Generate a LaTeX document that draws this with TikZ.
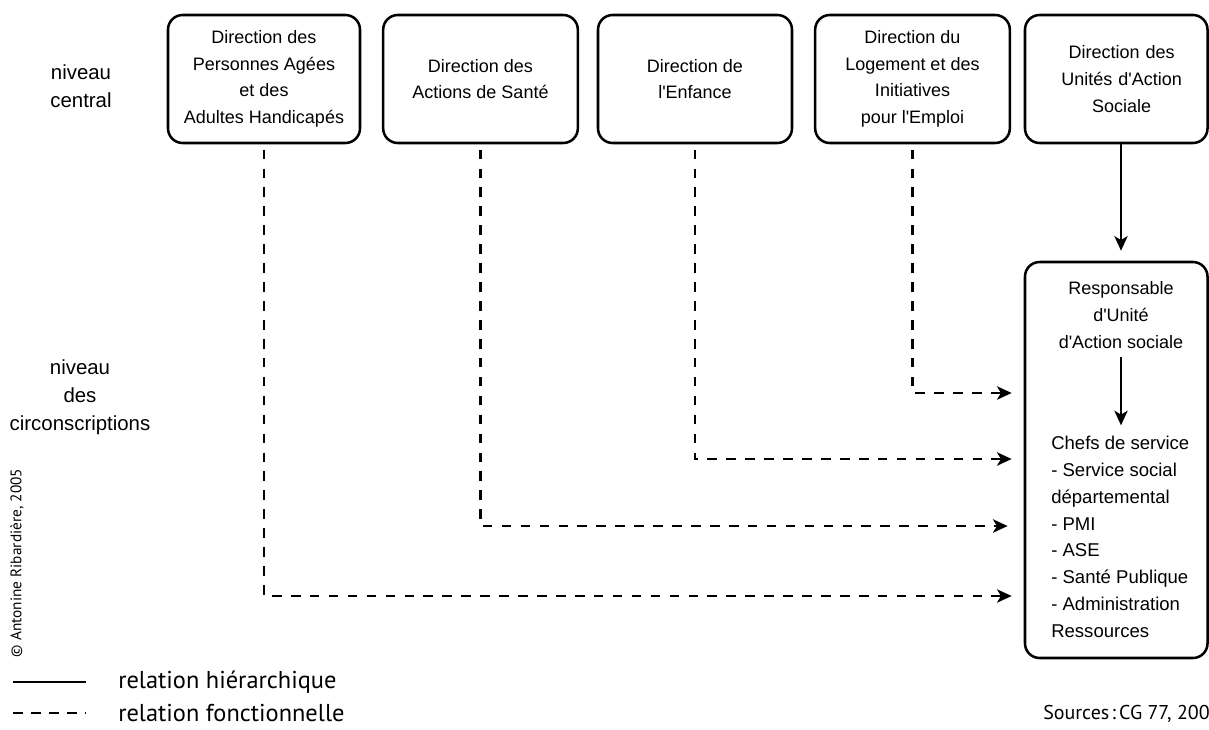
\documentclass[tikz,border=0pt]{standalone}
\usepackage{fontspec}
\setmainfont{Liberation Sans}[Ligatures=TeXOff]
\newfontfamily\myriad{PT Sans}
\usetikzlibrary{arrows.meta}
\begin{document}
\begin{tikzpicture}[x=0.75pt,y=-0.75pt,
  dirbox/.style={draw, line width=1.9pt, rounded corners=11pt, align=center,
    minimum height=96pt, inner sep=0pt,
    font=\fontsize{13.5pt}{20pt}\selectfont},
  lvl/.style={align=center, inner sep=0pt, font=\fontsize{15.3pt}{21pt}\selectfont},
  hier/.style={line width=1.5pt, -{Stealth[length=11pt,width=10pt,inset=3pt]}},
  fonc/.style={line width=1.9pt, dash pattern=on 7.2pt off 7pt,
    -{Stealth[length=11pt,width=10pt,inset=3pt]}, shorten >=10pt},
  legtxt/.style={anchor=west, inner sep=0pt, font=\myriad\fontsize{18.3pt}{20pt}\selectfont}
]
\useasboundingbox (0,0) rectangle (1209,729);
\fill[white] (0,0) rectangle (1209,729);

% left level labels
\node[lvl] (lc) at (81,86) {niveau\\central};
\node[lvl] (lcirc) at (80,397) {niveau\\des\\circonscriptions};

% top boxes
\node[dirbox, minimum width=144pt] (b1) at (264,79)
  {Direction des\\Personnes Agées\\et des\\Adultes Handicapés};
\node[dirbox, minimum width=146pt] (b2) at (480.5,79)
  {Direction des\\Actions de Santé};
\node[dirbox, minimum width=145.5pt] (b3) at (695,79)
  {Direction de\\l'Enfance};
\node[dirbox, minimum width=146pt] (b4) at (912.5,79)
  {Direction du\\Logement et des\\Initiatives\\pour l'Emploi};
\node[dirbox, minimum width=136.9pt, text width=136.9pt] (b5) at (1116.25,79)
  {\hspace*{8pt}Direction des\\\hspace*{8pt}Unités d'Action\\\hspace*{8pt}Sociale};

% tall box
\node[draw, line width=1.9pt, rounded corners=11pt, minimum width=136.9pt,
  minimum height=297pt, inner sep=0pt] (tall) at (1116.25,460) {};
\node[align=center, inner sep=0pt, font=\fontsize{13.5pt}{20pt}\selectfont]
  (resp) at (1121,315) {Responsable\\d'Unité\\d'Action sociale};
\node[align=left, anchor=north west, inner sep=0pt,
  font=\fontsize{13.9pt}{20.1pt}\selectfont] (chefs) at (1051,436)
  {Chefs de service\\- Service social\\départemental\\- PMI\\- ASE\\- Santé Publique\\- Administration\\Ressources};

% hierarchical arrows
\coordinate (ax) at (1121,0);
\draw[hier, shorten >=7.5pt] (b5.south -| ax) -- (tall.north -| ax);
\draw[hier, shorten <=6pt, shorten >=8pt] (resp.south -| ax) -- (chefs.north -| ax);

% functional relations
\coordinate (t4) at (1025,393);
\coordinate (t3) at (1025,459);
\coordinate (t2) at (1025,526);
\coordinate (t1) at (1025,596);
\draw[fonc, shorten <=4pt] (b4.south) |- (t4);
\draw[fonc, shorten <=4pt] (b3.south) |- (t3);
\draw[fonc, shorten <=4pt, shorten >=13pt] (b2.south) |- (t2);
\draw[fonc, shorten <=4pt] (b1.south) |- (t1);

% copyright
\node[rotate=90, inner sep=0pt, font=\myriad\fontsize{11.5pt}{13pt}\selectfont] (copy) at (17,563)
  {© Antonine Ribardière, 2005};

% legend
\coordinate (l1a) at (13,682);
\coordinate (l1b) at (86,682);
\coordinate (l2a) at (13,713);
\coordinate (l2b) at (86,713);
\draw[line width=1.9pt] (l1a) -- (l1b);
\draw[line width=1.9pt, dash pattern=on 7.5pt off 6pt] (l2a) -- (l2b);
\node[legtxt] (lh) at (118,682) {relation hiérarchique};
\node[legtxt] (lf) at (118,713) {relation fonctionnelle};

% source
\node[anchor=west, inner sep=0pt, font=\myriad\fontsize{15pt}{17pt}\selectfont] (src) at (1043,714)
  {Sources\hspace{0.12em}:\hspace{0.15em}CG 77, 2004};
\end{tikzpicture}
\end{document}
